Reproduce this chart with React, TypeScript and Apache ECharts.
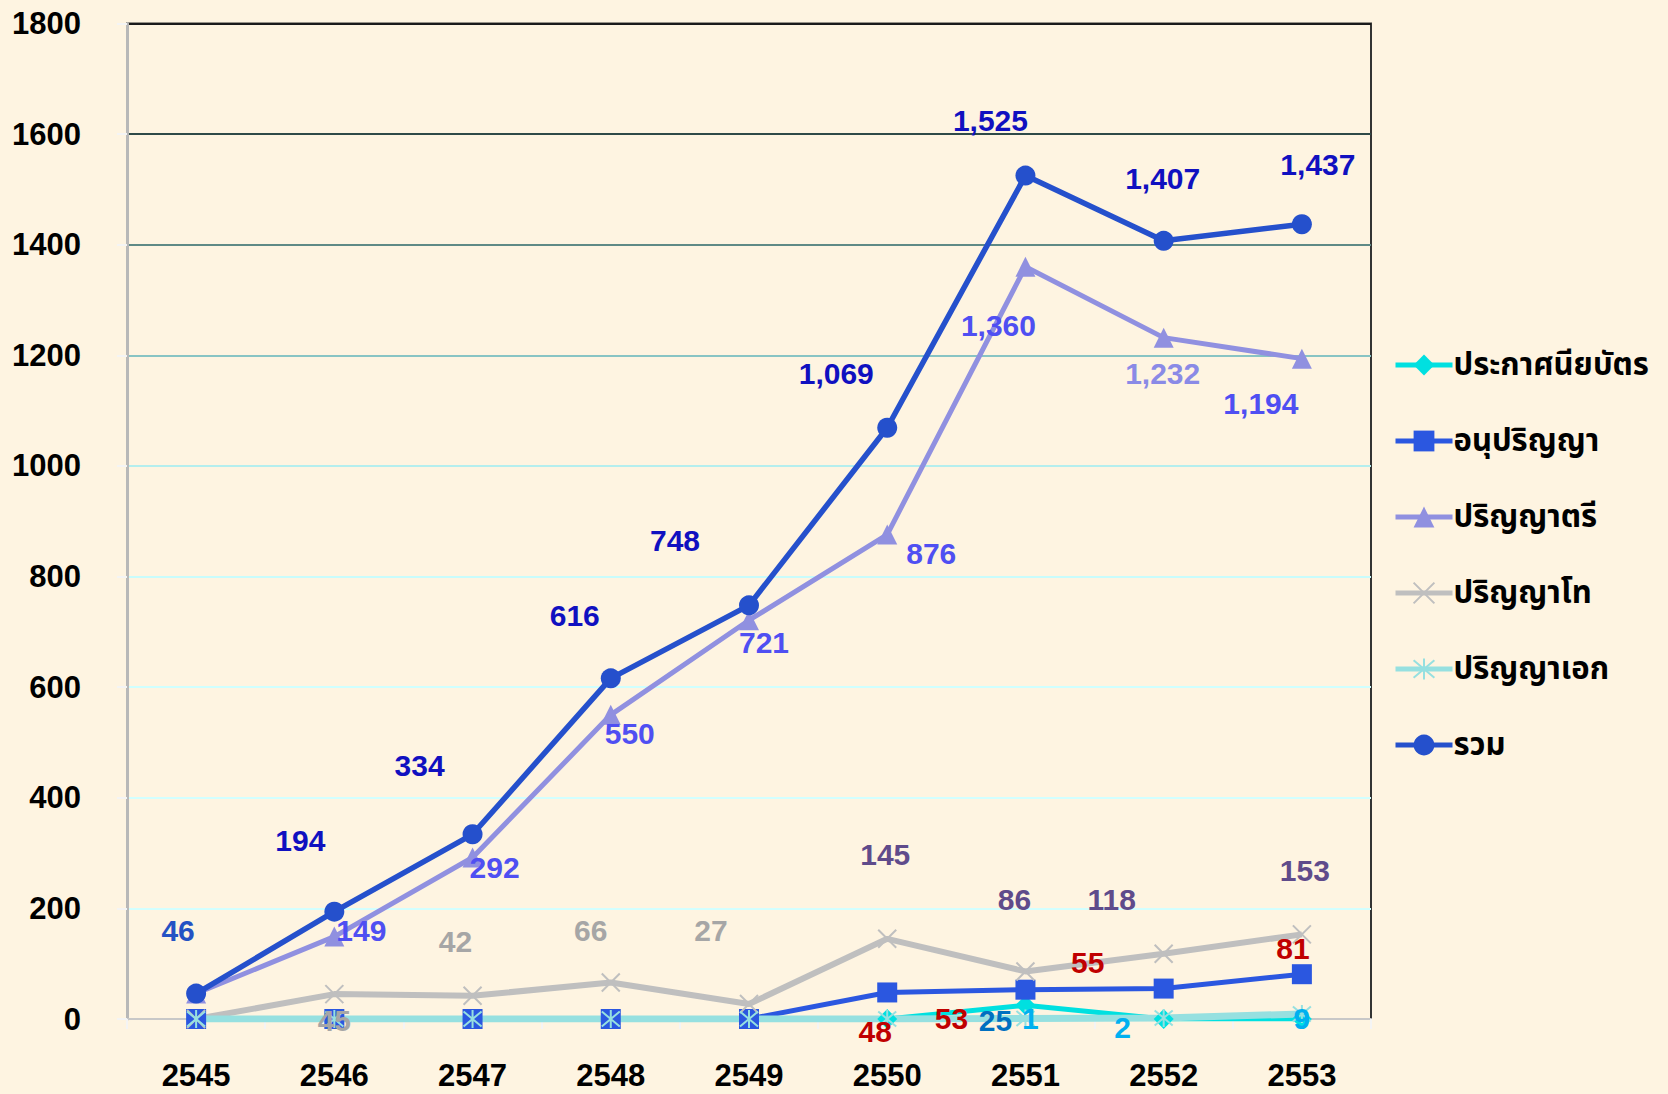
import React, { useEffect, useRef } from "react";
import * as echarts from "echarts";

const years = ["2545", "2546", "2547", "2548", "2549", "2550", "2551", "2552", "2553"];
const certificate = [0, 0, 0, 0, 0, 0, 25, 0, 0];
const associate = [0, 0, 0, 0, 0, 48, 53, 55, 81];
const bachelor = [46, 149, 292, 550, 721, 876, 1360, 1232, 1194];
const master = [0, 45, 42, 66, 27, 145, 86, 118, 153];
const doctorate = [0, 0, 0, 0, 0, 0, 1, 2, 9];
const total = [46, 194, 334, 616, 748, 1069, 1525, 1407, 1437];
const yTicks = [0, 200, 400, 600, 800, 1000, 1200, 1400, 1600, 1800];

const seriesNames = ["ประกาศนียบัตร", "อนุปริญญา", "ปริญญาตรี", "ปริญญาโท", "ปริญญาเอก", "รวม"];

// label placement (style only): [dx, dy, color] per point, null = no label
type LS = [number, number, string] | null;
const certLabels: LS[] = [null, null, null, null, null, null, [-30, 15, "#0070C0"], null, null];
const assocLabels: LS[] = [null, null, null, null, null, [-12, 39, "#C00000"], [-74, 29, "#C00000"], [-76, -26, "#C00000"], [-9, -26, "#C00000"]];
const bachLabels: LS[] = [null, [27, -6, "#4F4FF2"], [22, 10, "#4F4FF2"], [19, 19, "#4F4FF2"], [15, 22, "#4F4FF2"], [44, 19, "#4F4FF2"], [-27, 59, "#4F4FF2"], [-1, 36, "#8A8AE6"], [-41, 45, "#4F4FF2"]];
const masterLabels: LS[] = [null, [0, 26, "#A6A6A6"], [-17, -54, "#A6A6A6"], [-20, -52, "#A6A6A6"], [-38, -74, "#A6A6A6"], [-2, -84, "#5F4B8B"], [-11, -72, "#5F4B8B"], [-52, -54, "#5F4B8B"], [3, -64, "#5F4B8B"]];
const docLabels: LS[] = [null, null, null, null, null, null, [5, 0, "#00B0F0"], [-41, 10, "#00B0F0"], [0, 4, "#00B0F0"]];
const totalLabels: LS[] = [[-18, -63, "#2452C4"], [-34, -71, "#1010C0"], [-53, -69, "#1010C0"], [-36, -63, "#1010C0"], [-74, -65, "#1010C0"], [-51, -54, "#1010C0"], [-35, -55, "#1010C0"], [-1, -62, "#1010C0"], [16, -60, "#1010C0"]];

const fmt = (v: number) => v.toLocaleString("en-US");

function build(values: number[], labels: LS[]) {
  return values.map((v, i) => {
    const l = labels[i];
    if (!l) return { value: v, label: { show: false } };
    return {
      value: v,
      label: {
        show: true,
        position: "inside",
        offset: [l[0], l[1]],
        color: l[2],
        formatter: () => fmt(v),
      },
    };
  });
}

const thaiFont = "'Noto Sans Thai', 'Noto Sans Thai Looped', Tahoma, 'Noto Sans', 'DejaVu Sans', sans-serif";
const numFont = "'Liberation Sans', Arial, sans-serif";

export default function App() {
  const ref = useRef<HTMLDivElement>(null);
  useEffect(() => {
    if (!ref.current) return;
    const chart = echarts.init(ref.current, undefined, { renderer: "svg" });
    const labelBase = { fontSize: 30, fontWeight: "bold", fontFamily: numFont };
    const mk = (
      name: string,
      values: number[],
      labels: LS[],
      color: string,
      symbol: string,
      symbolSize: number,
      width: number,
      itemExtra: any = {}
    ) => ({
      name,
      type: "line",
      data: build(values, labels),
      symbol,
      symbolSize,
      showAllSymbol: true,
      lineStyle: { color, width },
      itemStyle: { color, ...itemExtra },
      label: { ...labelBase },
      emphasis: { disabled: true },
      z: 2,
    });
    chart.setOption({
      animation: false,
      backgroundColor: "#FEF4E1",
      grid: {
        left: 127,
        right: 297,
        top: 23.5,
        bottom: 75,
        show: true,
        borderColor: "#333333",
        borderWidth: 2,
        backgroundColor: "transparent",
      },
      legend: {
        orient: "vertical",
        left: 1393,
        top: 348,
        padding: 0,
        itemWidth: 57,
        itemHeight: 26,
        itemGap: 42,
        lineStyle: { width: 5 },
        textStyle: {
          fontSize: 31,
          fontWeight: "bold",
          fontFamily: thaiFont,
          color: "#000",
          lineHeight: 34,
          padding: [0, 0, 0, -4],
        },
        data: seriesNames,
      },
      xAxis: {
        type: "category",
        data: years,
        boundaryGap: true,
        axisLine: { show: true, lineStyle: { color: "#C8C8C8", width: 2 } },
        axisTick: { show: true, length: 10, lineStyle: { color: "#F4F4F4", width: 2 } },
        axisLabel: { fontSize: 31, fontWeight: "bold", color: "#000", fontFamily: numFont, margin: 41 },
      },
      yAxis: {
        type: "value",
        min: yTicks[0],
        max: yTicks[yTicks.length - 1],
        interval: 200,
        axisLine: { show: true, lineStyle: { color: "#B8B8B8", width: 3 } },
        axisTick: { show: true, length: 10, lineStyle: { color: "#F4F4F4", width: 2 } },
        axisLabel: {
          fontSize: 31,
          fontWeight: "bold",
          color: "#000",
          fontFamily: numFont,
          margin: 46,
          formatter: (v: number) => String(v),
        },
        splitLine: {
          show: true,
          lineStyle: {
            width: 2,
            color: [
              "#C8C8C8",
              "#D2FFFF",
              "#D2FFFF",
              "#CFFFFF",
              "#C8FCFC",
              "#B4EEEE",
              "#88C4C4",
              "#5F8A86",
              "#2F4A48",
              "#1A1A1A",
            ],
          },
        },
      },
      series: [
        mk(seriesNames[0], certificate, certLabels, "#00E0E0", "diamond", 20, 5),
        mk(seriesNames[1], associate, assocLabels, "#2B57E0", "rect", 20, 5),
        mk(seriesNames[2], bachelor, bachLabels, "#9090E0", "triangle", 20, 5),
        mk(seriesNames[3], master, masterLabels, "#BFBFBF", "path://M0,0L10,10M10,0L0,10", 18, 6, {
          borderColor: "#BFBFBF",
          borderWidth: 2,
        }),
        mk(seriesNames[4], doctorate, docLabels, "#96E0E0", "path://M0,0L10,10M10,0L0,10M5,-1L5,11", 18, 7, {
          borderColor: "#96E0E0",
          borderWidth: 2,
        }),
        mk(seriesNames[5], total, totalLabels, "#2550CC", "circle", 20, 5.5),
      ],
    });
    return () => chart.dispose();
  }, []);
  return (
    <div
      ref={ref}
      style={{ position: "fixed", left: 0, top: 0, width: 1668, height: 1094, background: "#FEF4E1" }}
    />
  );
}
